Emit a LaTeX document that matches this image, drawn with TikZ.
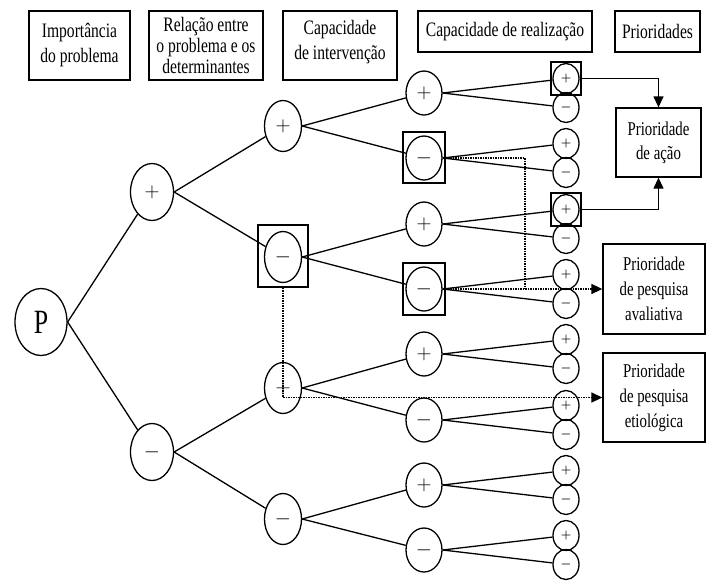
\documentclass[tikz,border=0pt]{standalone}
\usepackage{fontspec}
\setmainfont{Liberation Serif}[FakeStretch=0.76]
\usepackage{tikz}
\usetikzlibrary{shapes,arrows.meta}
\tikzstyle{rec} = [rectangle,draw,align=center,inner sep=2pt,font=\fontsize{20.5}{25}\selectfont]

\begin{document}
\begin{tikzpicture}
		[
		x=1pt,y=-1pt,
		line width=1.3pt,
		sign/.style={
		draw,
		ellipse,
		inner sep=0pt,
		minimum width=36pt,
		minimum height=44pt,
		font=\fontsize{21}{21}\selectfont},
		lvlone/.style={sign,minimum width=43pt,minimum height=57pt},
		lvltwo/.style={sign,minimum width=37pt,minimum height=51pt},
		leaf/.style={sign,minimum width=26pt,minimum height=30pt,font=\boldmath\fontsize{13}{13}\selectfont},
		frame/.style={draw,rectangle,inner sep=0pt},
		arr/.style={-{Triangle[length=11pt,width=10pt]}},
		dots/.style={densely dotted,line width=1.5pt}
		]
		\useasboundingbox (0,0) rectangle (713,582);
		% column headings
		\node[rec,minimum width=101pt,minimum height=69pt](hdr_importancia) at (79.5,45.5) {Importância\\do problema};
		\node[rec,minimum width=114pt,minimum height=69pt,font=\fontsize{20.5}{21}\selectfont](hdr_relacao) at (206,45.5) {Relação entre\\o problema e os\\determinantes};
		\node[rec,minimum width=114pt,minimum height=69pt,text depth=12pt](hdr_intervencao) at (340,45.5) {Capacidade\\de intervenção};
		\node[rec,minimum width=174pt,minimum height=41pt](hdr_realizacao) at (505,31.5) {Capacidade de realização};
		\node[rec,minimum width=85pt,minimum height=41pt](hdr_prioridades) at (657.5,31.5) {Prioridades};

		% tree
		\node[sign,minimum width=52pt,minimum height=67pt,font=\fontsize{34}{34}\selectfont](p) at (41,322) {P};
		\node[lvlone](n_p) at (152,192) {$+$};
		\node[lvlone](n_m) at (152,452) {$-$};

		\node[lvltwo](pp) at (283,126) {$+$};
		\node[lvltwo](pm) at (283,257) {$-$};
		\node[lvltwo](mp) at (283,388) {$+$};
		\node[lvltwo](mm) at (283,519) {$-$};

		\node[sign](ppp) at (424,93) {$+$};
		\node[sign](ppm) at (424,158) {$-$};
		\node[sign](pmp) at (424,224) {$+$};
		\node[sign](pmm) at (424,289) {$-$};
		\node[sign](mpp) at (424,354) {$+$};
		\node[sign](mpm) at (424,420) {$-$};
		\node[sign](mmp) at (424,485) {$+$};
		\node[sign](mmm) at (424,550) {$-$};

		% leaves
		\node[leaf](ppp_p) at (566,78.5) {$+$};
		\node[leaf,below of=ppp_p,node distance=29pt](ppp_m) {$-$};
		\node[leaf](ppm_p) at (566,143.5) {$+$};
		\node[leaf,below of=ppm_p,node distance=29pt](ppm_m) {$-$};
		\node[leaf](pmp_p) at (566,209.5) {$+$};
		\node[leaf,below of=pmp_p,node distance=29pt](pmp_m) {$-$};
		\node[leaf](pmm_p) at (566,274.5) {$+$};
		\node[leaf,below of=pmm_p,node distance=29pt](pmm_m) {$-$};
		\node[leaf](mpp_p) at (566,339.5) {$+$};
		\node[leaf,below of=mpp_p,node distance=29pt](mpp_m) {$-$};
		\node[leaf](mpm_p) at (566,405.5) {$+$};
		\node[leaf,below of=mpm_p,node distance=29pt](mpm_m) {$-$};
		\node[leaf](mmp_p) at (566,470.5) {$+$};
		\node[leaf,below of=mmp_p,node distance=29pt](mmp_m) {$-$};
		\node[leaf](mmm_p) at (566,535.5) {$+$};
		\node[leaf,below of=mmm_p,node distance=29pt](mmm_m) {$-$};

		% boxes round the chosen branches
		\node[frame,minimum width=50pt,minimum height=62pt](pm_box) at (283,256) {};
		\node[frame,minimum width=42pt,minimum height=51pt](ppm_box) at (424,157.5) {};
		\node[frame,minimum width=42pt,minimum height=52pt](pmm_box) at (424,289) {};
		\node[frame,minimum width=30pt,minimum height=33pt](ppp_p_box) at (ppp_p) {};
		\node[frame,minimum width=30pt,minimum height=33pt](pmp_p_box) at (pmp_p) {};

		% priorities
		\node[rec,minimum width=85pt,minimum height=69pt,font=\fontsize{19.5}{24}\selectfont](acao) at (658.5,142.5) {Prioridade\\de ação};
		\node[rec,minimum width=102pt,minimum height=90pt,font=\fontsize{19.5}{25}\selectfont](avaliativa) at (654,289) {Prioridade\\de pesquisa\\avaliativa};
		\node[rec,minimum width=102pt,minimum height=89pt,font=\fontsize{19.5}{25}\selectfont](etiologica) at (654,397.5) {Prioridade\\de pesquisa\\etiológica};

		% branches
		\draw (p.east) edge (n_p) edge (n_m);
		\draw (n_p.east) edge (pp) edge (pm);
		\draw (n_m.east) edge (mp) edge (mm);
		\draw (pp.east) edge (ppp) edge (ppm);
		\draw (pm.east) edge (pmp) edge (pmm);
		\draw (mp.east) edge (mpp) edge (mpm);
		\draw (mm.east) edge (mmp) edge (mmm);
		\draw (ppp.east) edge (ppp_p) edge (ppp_m);
		\draw (ppm.east) edge (ppm_p) edge (ppm_m);
		\draw (pmp.east) edge (pmp_p) edge (pmp_m);
		\draw (pmm.east) edge (pmm_p) edge (pmm_m);
		\draw (mpp.east) edge (mpp_p) edge (mpp_m);
		\draw (mpm.east) edge (mpm_p) edge (mpm_m);
		\draw (mmp.east) edge (mmp_p) edge (mmp_m);
		\draw (mmm.east) edge (mmm_p) edge (mmm_m);

		% arrows to the priorities
		\draw[arr] (ppp_p_box.east) -| (acao.north);
		\draw[arr] (pmp_p_box.east) -| (acao.south);
		\coordinate (dots_join) at (525,289);
		\draw[dots] (ppm.east) -| (dots_join);
		\draw[dots,arr] (pmm.east) -- (avaliativa.west);
		\draw[dots,arr] (pm_box.south) |- (etiologica.west);
\end{tikzpicture}
\end{document}
